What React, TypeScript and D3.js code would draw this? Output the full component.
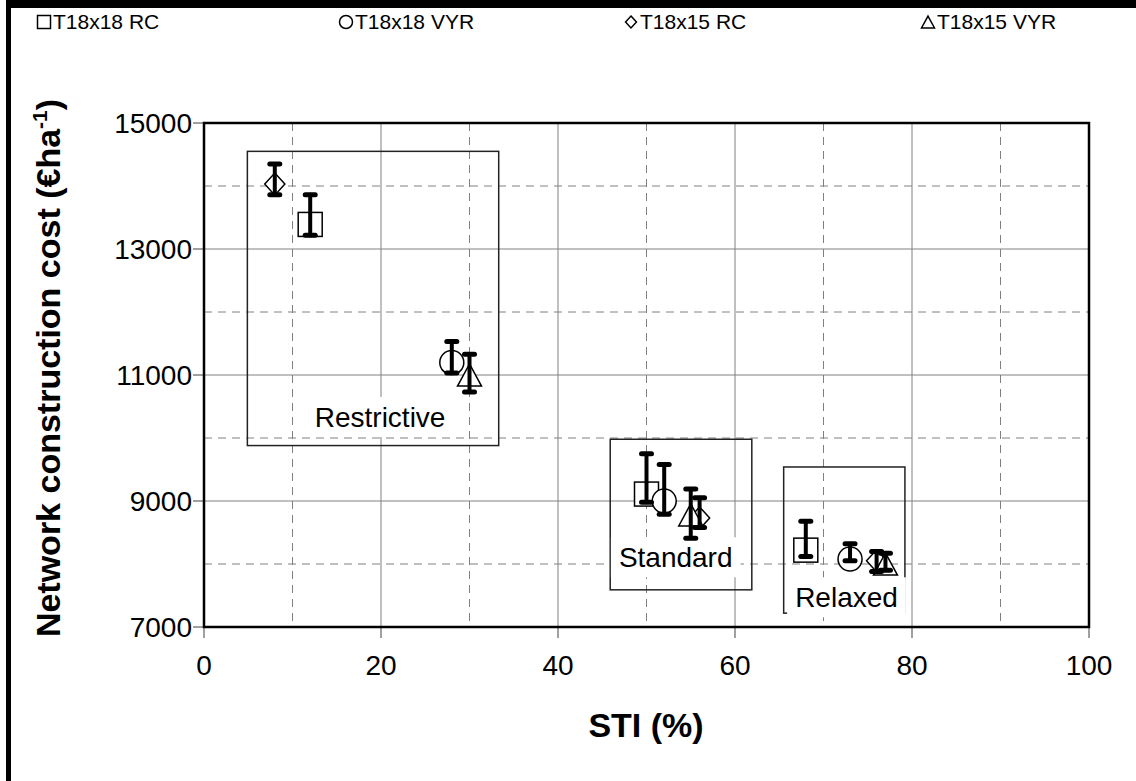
import React from "react";
import * as d3 from "d3";

// Axis ticks
const STI_TICKS = [0, 20, 40, 60, 80, 100];
const STI_MINOR = [10, 30, 50, 70, 90];
const COST_TICKS = [7000, 9000, 11000, 13000, 15000];
const COST_MINOR = [8000, 10000, 12000, 14000];

// Series (scenario order: Restrictive, Standard, Relaxed)
const SERIES_NAMES = ["T18x18 RC", "T18x18 VYR", "T18x15 RC", "T18x15 VYR"];
const SERIES_SYMBOLS = ["square", "circle", "diamond", "triangle"];

const t1818rcSti = [12, 50, 68];
const t1818rcCost = [13390, 9110, 8220];
const t1818rcHigh = [13860, 9750, 8680];
const t1818rcLow = [13220, 8980, 8120];

const t1818vyrSti = [28, 52, 73];
const t1818vyrCost = [11200, 9000, 8080];
const t1818vyrHigh = [11530, 9580, 8320];
const t1818vyrLow = [11030, 8790, 8050];

const t1815rcSti = [8, 56, 76];
const t1815rcCost = [14030, 8730, 8050];
const t1815rcHigh = [14350, 9050, 8200];
const t1815rcLow = [13860, 8580, 7880];

const t1815vyrSti = [30, 55, 77];
const t1815vyrCost = [11000, 8780, 8000];
const t1815vyrHigh = [11330, 9190, 8170];
const t1815vyrLow = [10730, 8410, 7900];

// Scenario groupings
const SCENARIOS = ["Restrictive", "Standard", "Relaxed"];
const scenarioSti = [
  [4.9, 33.3],
  [45.9, 61.9],
  [65.5, 79.2],
];
const scenarioCost = [
  [9880, 14550],
  [7590, 9980],
  [7220, 9540],
];

// Layout
const W = 1136;
const H = 781;
const PLOT = { left: 204, right: 1089, top: 123, bottom: 627 };
const FONT = "'Liberation Sans', Arial, Helvetica, sans-serif";
const GRID = "#808080";
const LABEL_ANCHORS = [
  [19.9, 10175],
  [53.3, 7947],
  [72.6, 7313],
];
const LEGEND_X = [37, 339, 624, 921];

const x = d3.scaleLinear().domain([0, 100]).range([PLOT.left, PLOT.right]);
const y = d3.scaleLinear().domain([7000, 15000]).range([PLOT.bottom, PLOT.top]);

const series = [
  { sti: t1818rcSti, cost: t1818rcCost, hi: t1818rcHigh, lo: t1818rcLow },
  { sti: t1818vyrSti, cost: t1818vyrCost, hi: t1818vyrHigh, lo: t1818vyrLow },
  { sti: t1815rcSti, cost: t1815rcCost, hi: t1815rcHigh, lo: t1815rcLow },
  { sti: t1815vyrSti, cost: t1815vyrCost, hi: t1815vyrHigh, lo: t1815vyrLow },
].map((s, i) => ({ ...s, name: SERIES_NAMES[i], symbol: SERIES_SYMBOLS[i] }));

function textWidth(txt: string, font: string) {
  const c = document.createElement("canvas").getContext("2d");
  if (!c) return txt.length * 14;
  c.font = font;
  return c.measureText(txt).width;
}

function Marker({ kind, cx, cy, s }: { kind: string; cx: number; cy: number; s: number }) {
  const st = { fill: "white", stroke: "black", strokeWidth: 1.5 };
  if (kind === "square") return <rect x={cx - s / 2} y={cy - s / 2} width={s} height={s} {...st} />;
  if (kind === "circle") return <circle cx={cx} cy={cy} r={s / 2} {...st} />;
  if (kind === "diamond") {
    const hw = s * 0.42;
    const hh = s * 0.46;
    return <path d={`M${cx},${cy - hh}L${cx + hw},${cy}L${cx},${cy + hh}L${cx - hw},${cy}Z`} {...st} />;
  }
  const hw = s / 2;
  const hh = s * 0.46;
  return <path d={`M${cx},${cy - hh}L${cx + hw},${cy + hh}L${cx - hw},${cy + hh}Z`} {...st} />;
}

export default function App() {
  const labelFont = `28px ${FONT}`;
  return (
    <svg
      width={W}
      height={H}
      style={{ position: "absolute", left: 0, top: 0, background: "white" }}
      fontFamily={FONT}
    >
      <rect x={0} y={0} width={W} height={H} fill="white" />

      {/* minor dashed grid */}
      {STI_MINOR.map((v) => (
        <line key={"vx" + v} x1={x(v)} x2={x(v)} y1={PLOT.top} y2={PLOT.bottom} stroke={GRID} strokeWidth={1} strokeDasharray="8,6" />
      ))}
      {COST_MINOR.map((v) => (
        <line key={"vy" + v} x1={PLOT.left} x2={PLOT.right} y1={y(v)} y2={y(v)} stroke={GRID} strokeWidth={1} strokeDasharray="8,6" />
      ))}
      {/* major solid grid */}
      {STI_TICKS.slice(1, -1).map((v) => (
        <line key={"gx" + v} x1={x(v)} x2={x(v)} y1={PLOT.top} y2={PLOT.bottom} stroke={GRID} strokeWidth={1} />
      ))}
      {COST_TICKS.slice(1, -1).map((v) => (
        <line key={"gy" + v} x1={PLOT.left} x2={PLOT.right} y1={y(v)} y2={y(v)} stroke={GRID} strokeWidth={1} />
      ))}

      {/* scenario boxes */}
      {SCENARIOS.map((name, i) => {
        const [x0, x1] = scenarioSti[i];
        const [c0, c1] = scenarioCost[i];
        return (
          <rect key={name} x={x(x0)} y={y(c1)} width={x(x1) - x(x0)} height={y(c0) - y(c1)} fill="none" stroke="#222" strokeWidth={1.5} />
        );
      })}
      {SCENARIOS.map((name, i) => {
        const [lx, ly] = LABEL_ANCHORS[i];
        const w = textWidth(name, labelFont);
        const cx = x(lx);
        const by = y(ly);
        return (
          <g key={"lab" + name}>
            <rect x={cx - w / 2 - 8} y={by - 30} width={w + 16} height={40} fill="white" />
            <text x={cx} y={by} textAnchor="middle" fontSize={28} fill="black">
              {name}
            </text>
          </g>
        );
      })}

      {/* markers */}
      {series.map((s) =>
        s.sti.map((v, j) => <Marker key={s.name + j} kind={s.symbol} cx={x(v)} cy={y(s.cost[j])} s={24} />)
      )}
      {/* error bars */}
      {series.map((s) =>
        s.sti.map((v, j) => {
          const cx = x(v);
          return (
            <g key={"e" + s.name + j} stroke="black" strokeLinecap="round">
              <line x1={cx} x2={cx} y1={y(s.hi[j])} y2={y(s.lo[j])} strokeWidth={4} />
              <line x1={cx - 5} x2={cx + 5} y1={y(s.hi[j])} y2={y(s.hi[j])} strokeWidth={5} />
              <line x1={cx - 5} x2={cx + 5} y1={y(s.lo[j])} y2={y(s.lo[j])} strokeWidth={5} />
            </g>
          );
        })
      )}

      {/* axes ticks */}
      {COST_TICKS.map((v) => (
        <g key={"yt" + v}>
          <line x1={PLOT.left - 11} x2={PLOT.left} y1={y(v)} y2={y(v)} stroke={GRID} strokeWidth={1.5} />
          <text x={PLOT.left - 12} y={y(v)} dy="0.36em" textAnchor="end" fontSize={28}>
            {v}
          </text>
        </g>
      ))}
      {STI_TICKS.map((v) => (
        <g key={"xt" + v}>
          <line x1={x(v)} x2={x(v)} y1={PLOT.bottom} y2={PLOT.bottom + 11} stroke={GRID} strokeWidth={1.5} />
          <text x={x(v)} y={PLOT.bottom + 48} textAnchor="middle" fontSize={28}>
            {v}
          </text>
        </g>
      ))}

      {/* plot frame */}
      <rect x={PLOT.left} y={PLOT.top} width={PLOT.right - PLOT.left} height={PLOT.bottom - PLOT.top} fill="none" stroke="black" strokeWidth={2.5} />

      {/* axis titles */}
      <text x={646} y={737} textAnchor="middle" fontSize={34} fontWeight="bold">
        STI (%)
      </text>
      <text transform={`translate(60,${(PLOT.top + PLOT.bottom) / 2 - 7}) rotate(-90)`} textAnchor="middle" fontSize={34} fontWeight="bold">
        Network construction cost (€ha
        <tspan dy={-13} fontSize={21}>-1</tspan>
        <tspan dy={13}>)</tspan>
      </text>

      {/* legend */}
      {series.map((s, i) => {
        const lx = LEGEND_X[i];
        return (
          <g key={"lg" + s.name}>
            <Marker kind={s.symbol} cx={lx + 7} cy={22} s={13} />
            <text x={lx + 16} y={29} fontSize={21}>
              {s.name}
            </text>
          </g>
        );
      })}

      {/* outer frame */}
      <path d={`M8.5,${H} V4 H${W}`} fill="none" stroke="black" strokeWidth={5} />
      <line x1={6} x2={W} y1={4} y2={4} stroke="black" strokeWidth={8} />
    </svg>
  );
}
